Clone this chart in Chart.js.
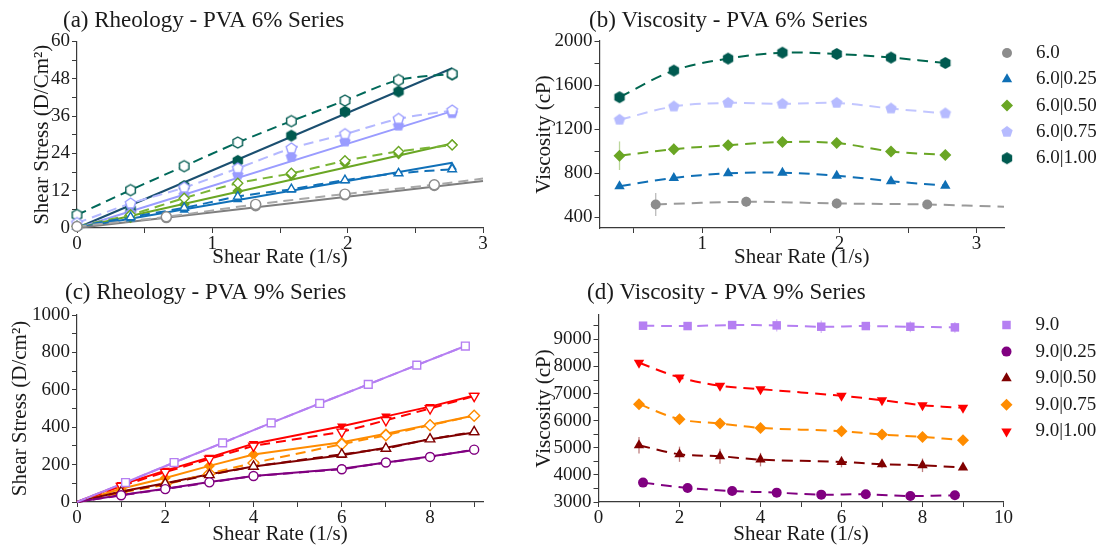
<!DOCTYPE html>
<html>
<head>
<meta charset="utf-8">
<script src="https://cdn.jsdelivr.net/npm/chart.js@4.4.1/dist/chart.umd.min.js"></script>
<style>
  body { margin: 0; background: #fff; width: 1105px; height: 547px; position: relative; overflow: hidden; }
  canvas { position: absolute; }
</style>
</head>
<body>
<canvas id="rheo6" width="500" height="272" style="left:0;top:0"></canvas>
<canvas id="visc6" width="605" height="272" style="left:500px;top:0"></canvas>
<canvas id="rheo9" width="500" height="275" style="left:0;top:272px"></canvas>
<canvas id="visc9" width="605" height="275" style="left:500px;top:272px"></canvas>
<script>
// shear rates (1/s)
const rate6 = [0.396, 0.792, 1.188, 1.584, 1.98, 2.376, 2.772];
const rate6Plain = [0.66, 1.32, 1.98, 2.64];
const rate9 = [1, 2, 3, 4, 6, 7, 8, 9];
const rate9Plain = [1.1, 2.2, 3.3, 4.4, 5.5, 6.6, 7.7, 8.8];

const labels6 = ['6.0', '6.0|0.25', '6.0|0.50', '6.0|0.75', '6.0|1.00'];
const labels9 = ['9.0', '9.0|0.25', '9.0|0.50', '9.0|0.75', '9.0|1.00'];

// PVA 6% shear stress (D/cm²): filled = ramp up, hollow = ramp down
const stress6Up = [
  [3.3, 7.1, 10.6, 13.6],
  [3.0, 5.8, 9.2, 12.2, 15.2, 17.6, 19.6],
  [3.3, 7.6, 11.9, 17.0, 20.8, 23.8, 26.9],
  [4.8, 10.6, 17.1, 22.9, 27.8, 32.9, 36.9],
  [6.0, 13.5, 21.6, 29.7, 37.4, 43.9, 49.4]
];
const stress6Down = [
  [3.6, 7.6, 10.9, 13.9],
  [3.5, 6.5, 10.1, 12.5, 15.4, 17.6, 18.9],
  [4.3, 9.6, 14.4, 17.6, 21.6, 24.6, 26.7],
  [7.9, 13.0, 19.2, 25.6, 30.2, 35.1, 37.8],
  [12.2, 19.9, 27.5, 34.4, 41.0, 47.6, 49.6]
];
const stress6Rest = [0.5, 0.5, 0.6, 1.6, 4.2];      // reading at 0 1/s
const stress6Fit = [15.1, 21.0, 27.2, 37.6, 51.4];  // linear fit end values
const stress6PlainEnd = 15.9;                       // 6.0 ramp-down trend at 3 1/s

// PVA 6% viscosity (cP)
const visc6 = [
  [514, 538, 523, 514],
  [680, 755, 797, 803, 776, 725, 685],
  [957, 1017, 1053, 1081, 1072, 996, 964],
  [1284, 1404, 1437, 1428, 1437, 1386, 1342],
  [1489, 1731, 1840, 1894, 1882, 1849, 1800]
];
const visc6Err = [
  [105, 45, 45, 30],
  [15, 15, 10, 10, 10, 10, 10],
  [130, 50, 15, 15, 15, 15, 10],
  [40, 20, 15, 10, 15, 15, 10],
  [20, 20, 20, 15, 15, 15, 15]
];
const visc6PlainEnd = 493;

// PVA 9% shear stress (D/cm²)
const stress9Up = [
  [104, 211, 316, 423, 527, 629, 732, 834],
  [38, 71, 107, 139, 178, 211, 243, 278],
  [56, 100, 148, 190, 250, 290, 336, 372],
  [71, 128, 193, 254, 320, 365, 413, 463],
  [92, 168, 238, 312, 405, 458, 510, 570]
];
const stress9Down = [
  [104, 211, 316, 423, 527, 629, 732, 834],
  [36, 69, 105, 139, 175, 211, 241, 280],
  [54, 98, 145, 190, 255, 286, 336, 375],
  [50, 93, 152, 209, 309, 357, 411, 461],
  [85, 160, 230, 300, 375, 437, 500, 566]
];

// PVA 9% viscosity (cP)
const visc9 = [
  [9505, 9492, 9529, 9517, 9468, 9492, 9468, 9443],
  [3715, 3517, 3406, 3345, 3271, 3283, 3222, 3246],
  [5094, 4762, 4688, 4565, 4478, 4392, 4355, 4269],
  [6610, 6055, 5895, 5735, 5612, 5489, 5402, 5279],
  [8137, 7595, 7287, 7164, 6918, 6757, 6572, 6474]
];
const visc9Err = [
  [70, 60, 100, 230, 230, 80, 200, 200],
  [40, 40, 40, 40, 40, 40, 40, 40],
  [300, 280, 280, 250, 200, 150, 250, 60],
  [50, 50, 50, 50, 40, 40, 40, 40],
  [60, 50, 50, 50, 50, 50, 50, 40]
];

const stressX9 = [rate9Plain, rate9, rate9, rate9, rate9];
const viscX9 = [rate9Plain, rate9Plain, rate9, rate9, rate9];

Chart.defaults.font.family = '"Liberation Serif", "Times New Roman", serif';
Chart.defaults.color = '#1a1a1a';

const pts = (xs, ys) => xs.map((x, i) => ({ x, y: ys[i] }));

// regular polygon marker drawn on a small canvas (Chart.js has no pentagon/hexagon)
function polygon(sides, r, fill, stroke, lw) {
  const c = document.createElement('canvas');
  const s = Math.ceil(2 * r + (lw || 0) + 2);
  c.width = c.height = s;
  const g = c.getContext('2d');
  g.beginPath();
  for (let i = 0; i < sides; i++) {
    const a = -Math.PI / 2 + i * 2 * Math.PI / sides;
    const px = s / 2 + r * Math.cos(a), py = s / 2 + r * Math.sin(a);
    if (i) g.lineTo(px, py); else g.moveTo(px, py);
  }
  g.closePath();
  g.fillStyle = fill;
  g.fill();
  if (stroke) { g.strokeStyle = stroke; g.lineWidth = lw; g.stroke(); }
  return c;
}

const isMajor = (v, m) => Math.abs(v / m - Math.round(v / m)) < 1e-6;

function linAxis(o) {
  return {
    type: 'linear',
    min: o.min,
    max: o.max,
    border: { color: '#3a3a3a', width: 1.2 },
    grid: { drawOnChartArea: false, tickLength: 5, color: '#3a3a3a', lineWidth: 1 },
    ticks: {
      autoSkip: false, maxRotation: 0,
      padding: o.pad, color: '#1a1a1a', font: { size: 19 },
      callback: v => isMajor(v, o.major) ? String(v) : ''
    },
    // every multiple of the minor step inside the range, nothing at the bare ends
    afterBuildTicks: s => {
      const ticks = [];
      for (let k = Math.ceil(o.min / o.step - 1e-9); k * o.step <= o.max + 1e-9; k++) {
        ticks.push({ value: Math.round(k * o.step * 1e6) / 1e6 });
      }
      s.ticks = ticks;
    },
    title: { display: true, text: o.title, color: '#1a1a1a', font: { size: 21 }, padding: o.titlePad },
    afterFit: s => {
      if (o.w != null) s.width = o.w;
      if (o.h != null) s.height = o.h;
    }
  };
}

const errorBars = {
  id: 'errorBars',
  beforeDatasetsDraw(chart) {
    const { ctx, scales: { x, y } } = chart;
    chart.data.datasets.forEach(ds => {
      if (!ds.errors) return;
      ctx.save();
      ctx.strokeStyle = ds.errorColor;
      ctx.lineWidth = 1.3;
      ds.errors.forEach((e, j) => {
        const p = ds.data[j];
        if (!e || !p) return;
        const px = x.getPixelForValue(p.x);
        ctx.beginPath();
        ctx.moveTo(px, y.getPixelForValue(p.y - e));
        ctx.lineTo(px, y.getPixelForValue(p.y + e));
        ctx.stroke();
      });
      ctx.restore();
    });
  }
};

const panelTitle = {
  id: 'panelTitle',
  afterDraw(chart, args, opts) {
    const ctx = chart.ctx;
    ctx.save();
    ctx.font = '23px "Liberation Serif", serif';
    ctx.fillStyle = '#1a1a1a';
    ctx.textBaseline = 'middle';
    ctx.fillText(opts.text, opts.x, opts.y);
    ctx.restore();
  }
};

const sideLegend = {
  id: 'sideLegend',
  afterDraw(chart, args, opts) {
    if (!opts.names) return;
    const { ctx, chartArea } = chart;
    const x = chartArea.right + opts.dx;
    opts.names.forEach((name, i) => {
      const y = opts.y + i * opts.gap;
      ctx.save();
      ctx.fillStyle = opts.colors[i];
      Chart.helpers.drawPoint(ctx, {
        pointStyle: opts.styles[i], radius: opts.radii[i],
        rotation: opts.rotations ? opts.rotations[i] : 0, borderWidth: 0
      }, x, y);
      ctx.font = '19px "Liberation Serif", serif';
      ctx.fillStyle = '#1a1a1a';
      ctx.textBaseline = 'middle';
      ctx.fillText(name, x + 29, y);
      ctx.restore();
    });
  }
};

function makeChart(id, datasets, o) {
  return new Chart(document.getElementById(id), {
    type: 'scatter',
    data: { datasets },
    options: {
      responsive: false,
      animation: false,
      events: [],
      layout: { padding: o.padding },
      scales: { x: linAxis(o.x), y: linAxis(o.y) },
      plugins: {
        legend: { display: false },
        tooltip: { enabled: false },
        panelTitle: o.title,
        sideLegend: o.legend || {}
      }
    },
    plugins: [errorBars, panelTitle, sideLegend]
  });
}

// ---- (a) rheology, PVA 6% ----
const markA = ['#8c8c8c', '#1070b8', '#6aa624', '#9a9cff', '#005a50'];
const solidA = ['#7f7f7f', '#1070b8', '#6aa624', '#9a9cff', '#1b4f70'];
const dashA = ['#a8a8a8', '#1070b8', '#7ab536', '#b4b8ff', '#00695a'];
const filledA = ['circle', 'triangle', 'rectRot', polygon(5, 6, markA[3]), polygon(6, 6, markA[4])];
const hollowA = ['circle', 'triangle', 'rectRot',
  polygon(5, 5.5, '#fff', markA[3], 1.4), polygon(6, 5.5, '#fff', markA[4], 1.4)];

const dsA = [];
labels6.forEach((name, i) => {
  const xs = i === 0 ? rate6Plain : rate6;
  const fitX = i === 0 ? 3 : rate6[rate6.length - 1];
  const down = [{ x: 0, y: stress6Rest[i] }].concat(pts(xs, stress6Down[i]));
  const trend = down.slice();
  if (i === 0) trend.push({ x: 3, y: stress6PlainEnd });
  dsA.push({ label: name + ' fit', data: [{ x: 0, y: 0 }, { x: fitX, y: stress6Fit[i] }],
    showLine: true, borderColor: solidA[i], borderWidth: 2, pointRadius: 0, order: 40, clip: false });
  dsA.push({ label: name + ' trend', data: trend, showLine: true, tension: 0.3,
    borderColor: dashA[i], borderWidth: 2, borderDash: [10, 6], pointRadius: 0, order: 30, clip: false });
  dsA.push({ label: name, data: pts(xs, stress6Up[i]), pointStyle: filledA[i], pointRadius: 5.5,
    pointBackgroundColor: markA[i], pointBorderWidth: 0, order: 20, clip: false });
  dsA.push({ label: name, data: down, pointStyle: hollowA[i], pointRadius: 5,
    pointBackgroundColor: '#fff', pointBorderColor: markA[i], pointBorderWidth: 1.4, order: 10, clip: false });
});

makeChart('rheo6', dsA, {
  padding: { left: 0, top: 41.5, right: 17, bottom: 0 },
  x: { min: 0, max: 3, step: 0.5, major: 1, pad: 0, title: 'Shear Rate (1/s)', titlePad: { top: 0, bottom: 2 }, h: 44 },
  y: { min: 0, max: 60, step: 6, major: 12, pad: 2, title: 'Shear Stress (D/Cm²)', titlePad: { top: 30, bottom: 0 }, w: 77 },
  title: { text: '(a) Rheology - PVA 6% Series', x: 63, y: 21 }
});

// ---- (b) viscosity, PVA 6% ----
const markB = ['#8c8c8c', '#0f6fb5', '#6aa624', '#b6bbff', '#005a50'];
const lineB = ['#9a9a9a', '#0f6fb5', '#6aa624', '#c2c6ff', '#00664f'];
const errB = ['rgba(140,140,140,0.6)', 'rgba(15,111,181,0.45)', 'rgba(106,166,36,0.45)',
  'rgba(182,187,255,0.6)', 'rgba(0,90,80,0.45)'];
const styleB = ['circle', 'triangle', 'rectRot', polygon(5, 6, markB[3]), polygon(6, 6, markB[4])];
const radiusB = [5, 6, 6, 6, 6];

const dsB = labels6.map((name, i) => {
  const xs = i === 0 ? rate6Plain : rate6;
  const data = pts(xs, visc6[i]);
  const radius = xs.map(() => radiusB[i]);
  if (i === 0) { data.push({ x: 3.2, y: visc6PlainEnd }); radius.push(0); }
  return {
    label: name, data, showLine: true, tension: 0.35,
    borderColor: lineB[i], borderWidth: 2, borderDash: [11, 7],
    pointStyle: styleB[i], pointRadius: radius, pointBackgroundColor: markB[i], pointBorderWidth: 0,
    errors: visc6Err[i], errorColor: errB[i], clip: false
  };
});

makeChart('visc6', dsB, {
  padding: { left: 0, top: 41, right: 101, bottom: 0 },
  x: { min: 0.25, max: 3.2, step: 0.5, major: 1, pad: 0, title: 'Shear Rate (1/s)', titlePad: { top: 0, bottom: 2 }, h: 44 },
  y: { min: 300, max: 2000, step: 200, major: 400, pad: 2, title: 'Viscosity (cP)', titlePad: { top: 32, bottom: 0 }, w: 99.5 },
  title: { text: '(b) Viscosity - PVA 6% Series', x: 89, y: 21 },
  legend: { names: labels6, styles: styleB, colors: ['#8c8c8c', '#0f6fb5', '#6aa624', '#a3a9ff', '#005a50'],
    radii: radiusB, dx: 3, y: 53, gap: 26.3 }
});

// ---- (c) rheology, PVA 9% ----
const col9 = ['#b57ff2', '#800080', '#800000', '#ff8c00', '#ff0000'];
const style9 = ['rect', 'circle', 'triangle', 'rectRot', 'triangle'];
const rot9 = [0, 0, 0, 0, 180];
const radius9 = [6, 5, 6, 6, 6];

const dsC = [];
labels9.forEach((name, i) => {
  const xs = stressX9[i];
  const up = [{ x: 0, y: 0 }].concat(pts(xs, stress9Up[i]));
  const down = [{ x: 0, y: 0 }].concat(pts(xs, stress9Down[i]));
  const r = up.map((p, j) => j ? radius9[i] - 0.5 : 0);
  dsC.push({ label: name, data: up, showLine: true, borderColor: col9[i], borderWidth: 2,
    pointStyle: style9[i], pointRotation: rot9[i], pointRadius: r,
    pointBackgroundColor: col9[i], pointBorderWidth: 0, order: 20, clip: false });
  dsC.push({ label: name, data: down, showLine: true, borderColor: col9[i], borderWidth: 2, borderDash: [10, 6],
    pointStyle: style9[i], pointRotation: rot9[i], pointRadius: r,
    pointBackgroundColor: '#fff', pointBorderColor: col9[i], pointBorderWidth: 1.4, order: 10, clip: false });
});

makeChart('rheo9', dsC, {
  padding: { left: 0, top: 43, right: 17, bottom: 0 },
  x: { min: 0, max: 9.2, step: 1, major: 2, pad: 0, title: 'Shear Rate (1/s)', titlePad: { top: 0, bottom: 0 }, h: 45 },
  y: { min: 0, max: 1000, step: 100, major: 200, pad: 2, title: 'Shear Stress (D/cm²)', titlePad: { top: 8, bottom: 0 }, w: 77 },
  title: { text: '(c) Rheology - PVA 9% Series', x: 65, y: 21 }
});

// ---- (d) viscosity, PVA 9% ----
const err9 = ['rgba(181,127,242,0.5)', 'rgba(128,0,128,0.4)', 'rgba(128,0,0,0.5)',
  'rgba(255,140,0,0.4)', 'rgba(255,0,0,0.4)'];

const dsD = labels9.map((name, i) => ({
  label: name, data: pts(viscX9[i], visc9[i]), showLine: true, tension: 0.35,
  borderColor: col9[i], borderWidth: 2, borderDash: [11, 7],
  pointStyle: style9[i], pointRotation: rot9[i], pointRadius: radius9[i],
  pointBackgroundColor: col9[i], pointBorderWidth: 0,
  errors: visc9Err[i], errorColor: err9[i], clip: false
}));

makeChart('visc9', dsD, {
  padding: { left: 0, top: 43, right: 101.5, bottom: 0 },
  x: { min: 0, max: 10, step: 1, major: 2, pad: 0, title: 'Shear Rate (1/s)', titlePad: { top: 0, bottom: 0 }, h: 45 },
  y: { min: 3000, max: 9900, step: 500, major: 1000, pad: 2, title: 'Viscosity (cP)', titlePad: { top: 32, bottom: 0 }, w: 98.5 },
  title: { text: '(d) Viscosity - PVA 9% Series', x: 87, y: 21 },
  legend: { names: labels9, styles: style9, colors: col9, rotations: rot9, radii: radius9, dx: 3, y: 53, gap: 26.6 }
});
</script>
</body>
</html>
